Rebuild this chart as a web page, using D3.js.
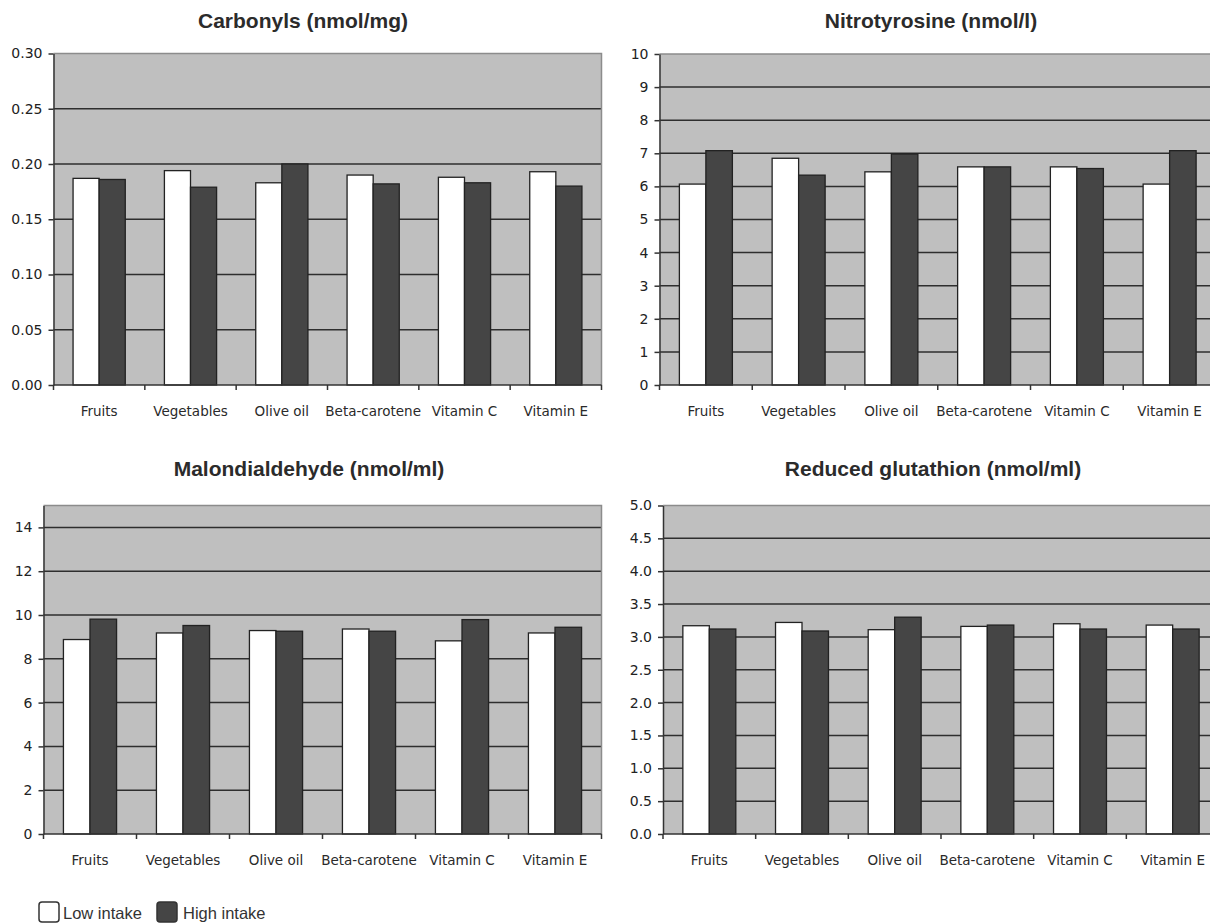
<!DOCTYPE html>
<html>
<head>
<meta charset="utf-8">
<script src="https://cdn.jsdelivr.net/npm/d3@7"></script>
<style>
  html, body { margin: 0; padding: 0; background: #ffffff; }
  svg { display: block; }
</style>
</head>
<body>
<svg id="chart" width="1210" height="924"></svg>
<script>
// ---------------- DATA ----------------
const categories = ["Fruits", "Vegetables", "Olive oil", "Beta-carotene", "Vitamin C", "Vitamin E"];
const series = ["Low intake", "High intake"];

const carbonylsLow  = [0.187, 0.194, 0.183, 0.190, 0.188, 0.193];
const carbonylsHigh = [0.186, 0.179, 0.200, 0.182, 0.183, 0.180];
const carbonylsTicks = [0, 0.05, 0.10, 0.15, 0.20, 0.25, 0.30];

const nitroLow  = [6.07, 6.85, 6.44, 6.59, 6.59, 6.07];
const nitroHigh = [7.08, 6.34, 6.98, 6.59, 6.54, 7.08];
const nitroTicks = [0, 1, 2, 3, 4, 5, 6, 7, 8, 9, 10];

const mdaLow  = [8.88, 9.18, 9.29, 9.36, 8.82, 9.18];
const mdaHigh = [9.81, 9.52, 9.26, 9.26, 9.79, 9.44];
const mdaTicks = [0, 2, 4, 6, 8, 10, 12, 14];

const gshLow  = [3.17, 3.22, 3.11, 3.16, 3.20, 3.18];
const gshHigh = [3.12, 3.09, 3.30, 3.18, 3.12, 3.12];
const gshTicks = [0, 0.5, 1.0, 1.5, 2.0, 2.5, 3.0, 3.5, 4.0, 4.5, 5.0];

const titles = ["Carbonyls (nmol/mg)", "Nitrotyrosine (nmol/l)", "Malondialdehyde (nmol/ml)", "Reduced glutathion (nmol/ml)"];

// ---------------- LAYOUT ----------------
const panels = [
  { title: titles[0], low: carbonylsLow, high: carbonylsHigh, ticks: carbonylsTicks, max: 0.30, fmt: ".2f",
    x0: 53.5, x1: 601.5, y0: 53.5, y1: 385, tx: 303, ty: 28 },
  { title: titles[1], low: nitroLow, high: nitroHigh, ticks: nitroTicks, max: 10, fmt: "d",
    x0: 659.5, x1: 1216, y0: 54, y1: 385, tx: 931, ty: 28 },
  { title: titles[2], low: mdaLow, high: mdaHigh, ticks: mdaTicks, max: 15, fmt: "d",
    x0: 43.5, x1: 601.5, y0: 505.5, y1: 834, tx: 309, ty: 476 },
  { title: titles[3], low: gshLow, high: gshHigh, ticks: gshTicks, max: 5, fmt: ".1f",
    x0: 663, x1: 1219, y0: 505.5, y1: 834, tx: 933, ty: 476 }
];

const colors = { "Low intake": "#ffffff", "High intake": "#454545" };
const svg = d3.select("#chart");

panels.forEach(p => {
  const g = svg.append("g");
  const x = d3.scaleBand().domain(categories).range([p.x0, p.x1]).paddingInner(0).paddingOuter(0);
  const xs = d3.scaleBand().domain(series).range([0, x.bandwidth()]).paddingInner(0).paddingOuter(0.75);
  const y = d3.scaleLinear().domain([0, p.max]).range([p.y1, p.y0]);

  // plot background
  g.append("rect").attr("x", p.x0).attr("y", p.y0)
    .attr("width", p.x1 - p.x0).attr("height", p.y1 - p.y0)
    .attr("fill", "#bfbfbf");

  // gridlines
  g.selectAll(".grid").data(p.ticks.filter(t => t > 0 && t < p.max)).enter().append("line")
    .attr("x1", p.x0).attr("x2", p.x1)
    .attr("y1", d => y(d)).attr("y2", d => y(d))
    .attr("stroke", "#2e2e2e").attr("stroke-width", 1.5);

  // border (top/right)
  g.append("path")
    .attr("d", `M${p.x0},${p.y0}H${p.x1}V${p.y1}`)
    .attr("fill", "none").attr("stroke", "#8c8c8c").attr("stroke-width", 1.5);

  // bars
  const rows = categories.map((c, i) => ({ cat: c, vals: [
    { s: series[0], v: p.low[i] }, { s: series[1], v: p.high[i] } ] }));
  const cg = g.selectAll(".cat").data(rows).enter().append("g")
    .attr("transform", d => `translate(${x(d.cat)},0)`);
  cg.selectAll("rect").data(d => d.vals).enter().append("rect")
    .attr("x", d => xs(d.s))
    .attr("y", d => y(d.v))
    .attr("width", xs.bandwidth())
    .attr("height", d => y(0) - y(d.v))
    .attr("fill", d => colors[d.s])
    .attr("stroke", "#222")
    .attr("stroke-width", 1.3);

  // y axis
  const yAxis = d3.axisLeft(y).tickValues(p.ticks).tickFormat(d3.format(p.fmt))
    .tickSize(5).tickPadding(6).tickSizeOuter(0);
  const ya = g.append("g").attr("transform", `translate(${p.x0},0)`).call(yAxis);
  ya.select(".domain").attr("stroke", "#333").attr("stroke-width", 1.5);
  ya.selectAll(".tick line").attr("stroke", "#333").attr("stroke-width", 1.5);
  ya.selectAll(".tick text").attr("fill", "#222")
    .style("font-family", "'DejaVu Sans', Verdana, sans-serif").style("font-size", "14px");

  // x axis line
  g.append("line").attr("x1", p.x0).attr("x2", p.x1).attr("y1", p.y1).attr("y2", p.y1)
    .attr("stroke", "#333").attr("stroke-width", 1.5);
  // category boundary ticks
  const bounds = categories.map(c => x(c)).concat([x(categories[categories.length - 1]) + x.bandwidth()]);
  g.selectAll(".xt").data(bounds).enter().append("line")
    .attr("x1", d => d).attr("x2", d => d)
    .attr("y1", p.y1).attr("y2", p.y1 + 5)
    .attr("stroke", "#333").attr("stroke-width", 1.5);
  // category labels
  g.selectAll(".xl").data(categories).enter().append("text")
    .attr("x", d => x(d) + x.bandwidth() / 2)
    .attr("y", p.y1 + 31)
    .attr("text-anchor", "middle")
    .attr("fill", "#2a2a2a")
    .style("font-family", "'DejaVu Sans', Verdana, sans-serif").style("font-size", "13.5px")
    .text(d => d);

  // title
  g.append("text").attr("x", p.tx).attr("y", p.ty)
    .attr("text-anchor", "middle").attr("fill", "#2b2b2b")
    .style("font-family", "'Liberation Sans', Arial, sans-serif")
    .style("font-weight", "bold").style("font-size", "21px")
    .text(p.title);
});

// ---------------- LEGEND ----------------
const legend = svg.append("g");
const legendItems = [
  { s: series[0], bx: 39, tx: 63 },
  { s: series[1], bx: 157, tx: 183 }
];
legendItems.forEach(it => {
  legend.append("rect").attr("x", it.bx).attr("y", 902).attr("width", 20).attr("height", 20)
    .attr("rx", 3).attr("fill", colors[it.s]).attr("stroke", "#333").attr("stroke-width", 1.5);
  legend.append("text").attr("x", it.tx).attr("y", 919)
    .attr("fill", "#333")
    .style("font-family", "'Liberation Sans', Arial, sans-serif").style("font-size", "16.5px")
    .text(it.s);
});
</script>
</body>
</html>
